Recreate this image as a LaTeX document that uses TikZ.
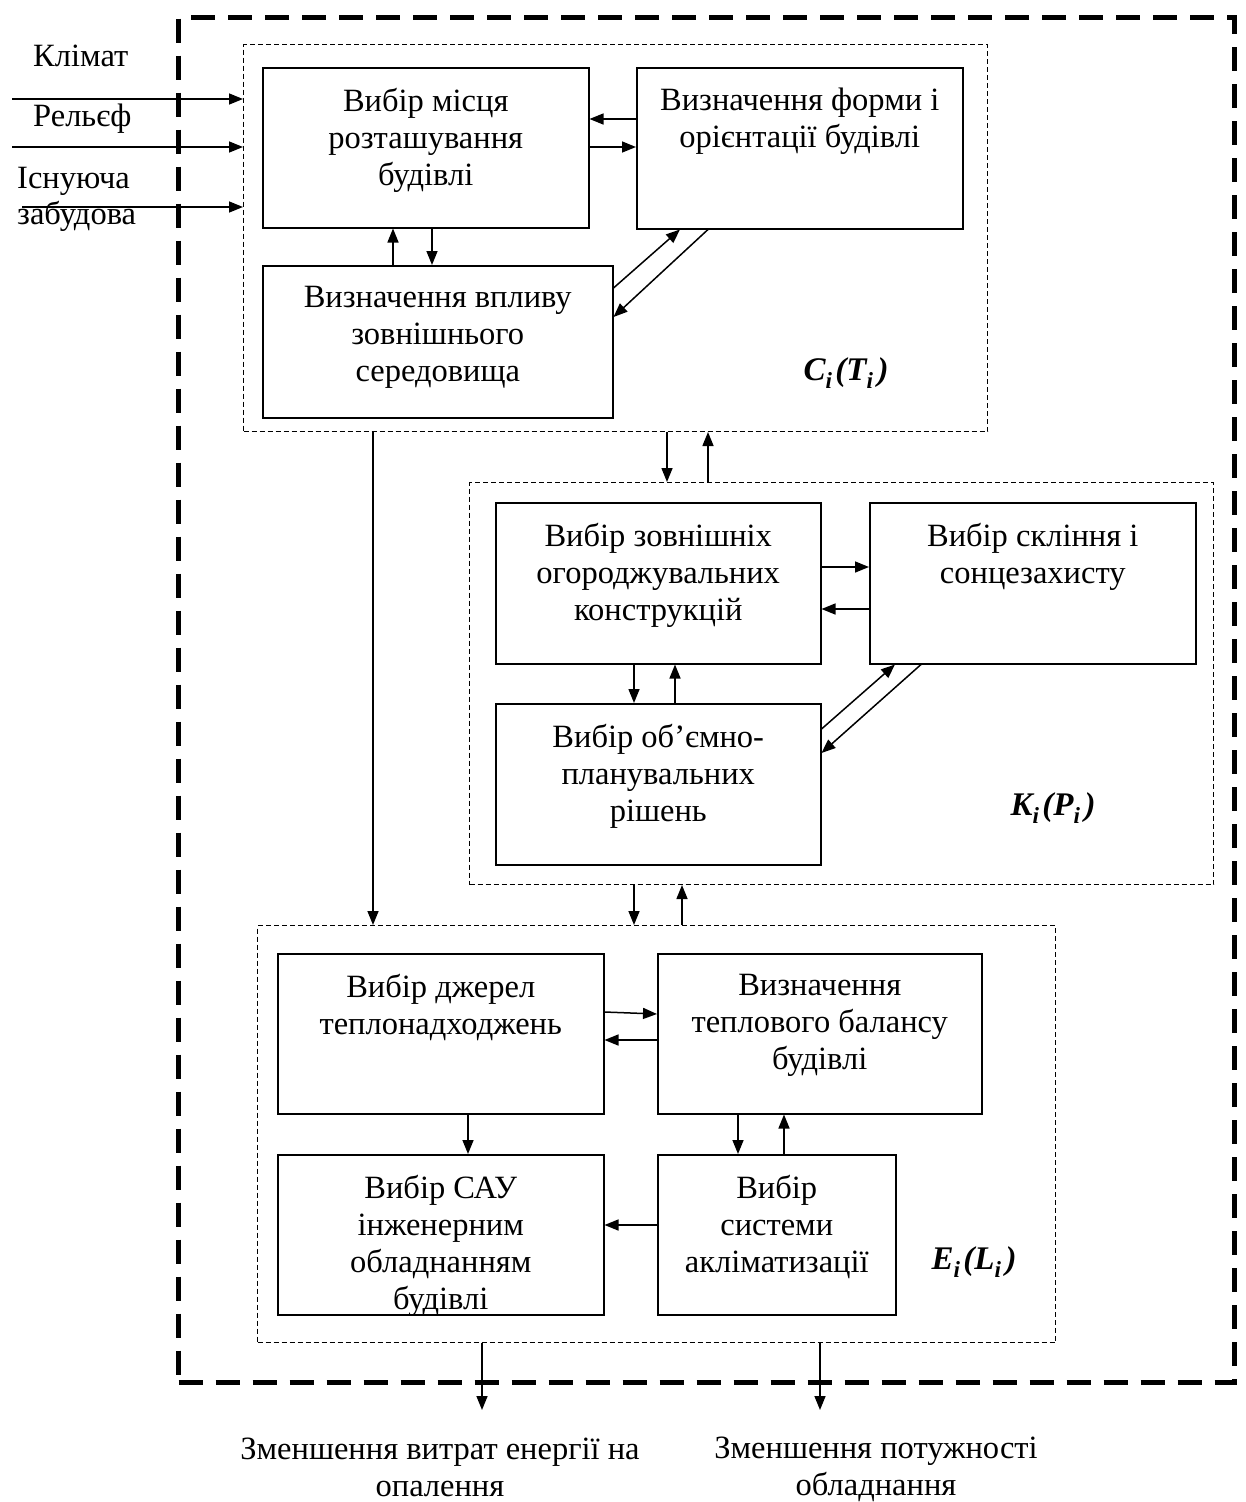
\documentclass[tikz,border=0pt]{standalone}
\usepackage{fontspec}
\setmainfont{Liberation Serif}
\usetikzlibrary{arrows.meta}
\newcommand{\grpname}[2]{\bfseries\itshape #1\textsubscript{i}\kern3pt(#2\textsubscript{i}\kern4pt)}
\begin{document}
\begin{tikzpicture}[x=1pt,y=-1pt,
  every node/.style={font=\fontsize{32.5}{37}\selectfont},
  box/.style={draw, line width=1.5pt, inner sep=0pt, anchor=north west},
  grp/.style={draw, line width=1pt, dash pattern=on 5pt off 3pt, inner sep=0pt, anchor=north west},
  frame/.style={draw, line width=5pt, dash pattern=on 24pt off 13pt, inner sep=0pt, anchor=north west},
  txt/.style={anchor=north, align=center, inner sep=0pt},
  lbl/.style={anchor=base west, inner sep=0pt},
  mlbl/.style={inner sep=0pt, font=\fontsize{33}{36}\selectfont},
  arr/.style={-{Triangle[length=14pt,width=11pt]}, line width=1.5pt}
]
\useasboundingbox (0,0) rectangle (1246,1502);

% outer frame
\node[frame, minimum width=1056pt, minimum height=1365pt] (outer) at (176,15) {};

% group C_i(T_i)
\node[grp, minimum width=744pt, minimum height=387pt] (gc) at (243,44) {};
\node[box, minimum width=326pt, minimum height=160pt] (a1) at (262,67) {};
\node[box, minimum width=326pt, minimum height=161pt] (a2) at (636,67) {};
\node[box, minimum width=350pt, minimum height=152pt] (a3) at (262,265) {};
\node[txt] at ([yshift=-21pt]a1.north) {Вибір місця\\розташування\\будівлі};
\node[txt] at ([yshift=-21pt]a2.north) {Визначення форми і\\орієнтації будівлі};
\node[txt] at ([yshift=-21pt]a3.north) {Визначення впливу\\зовнішнього\\середовища};
\node[mlbl] (mc) at (846,373) {\grpname{C}{T}};

% group K_i(P_i)
\node[grp, minimum width=744pt, minimum height=402pt] (gk) at (469,482) {};
\node[box, minimum width=325pt, minimum height=161pt] (b1) at (495,502) {};
\node[box, minimum width=326pt, minimum height=161pt] (b2) at (869,502) {};
\node[box, minimum width=325pt, minimum height=161pt] (b3) at (495,703) {};
\node[txt] at ([yshift=-21pt]b1.north) {Вибір зовнішніх\\огороджувальних\\конструкцій};
\node[txt] at ([yshift=-21pt]b2.north) {Вибір скління і\\сонцезахисту};
\node[txt] at ([yshift=-21pt]b3.north) {Вибір об’ємно-\\планувальних\\рішень};
\node[mlbl] (mk) at (1053,808) {\grpname{K}{P}};

% group E_i(L_i)
\node[grp, minimum width=798pt, minimum height=417pt] (ge) at (257,925) {};
\node[box, minimum width=326pt, minimum height=160pt] (d1) at (277,953) {};
\node[box, minimum width=324pt, minimum height=160pt] (d2) at (657,953) {};
\node[box, minimum width=326pt, minimum height=160pt] (d3) at (277,1154) {};
\node[box, minimum width=238pt, minimum height=160pt] (d4) at (657,1154) {};
\node[txt] at ([yshift=-21pt]d1.north) {Вибір джерел\\теплонадходжень};
\node[txt] at ([yshift=-21pt]d2.north) {Визначення\\теплового балансу\\будівлі};
\node[txt] at ([yshift=-21pt]d3.north) {Вибір САУ\\інженерним\\обладнанням\\будівлі};
\node[txt] at ([yshift=-21pt]d4.north) {Вибір\\системи\\акліматизації};
\node[mlbl] (me) at (974,1262) {\grpname{E}{L}};

% inputs
\node[lbl] (in1) at (33,66) {Клімат};
\node[lbl] (in2) at (33,126) {Рельєф};
\node[lbl] (in3) at (17,188) {Існуюча};
\node[lbl] (in4) at (17,224) {забудова};
\coordinate (s1) at (12,99);
\coordinate (s2) at (12,147);
\coordinate (s3) at (22,207);
\draw[arr] (s1) -- (gc.west |- s1);
\draw[arr] (s2) -- (gc.west |- s2);
\draw[arr] (s3) -- (gc.west |- s3);

% arrows inside C
\draw[arr] (a2.west |- 0,119) -- (a1.east |- 0,119);
\draw[arr] (a1.east |- 0,147) -- (a2.west |- 0,147);
\draw[arr] (a3.north -| 393,0) -- (a1.south -| 393,0);
\draw[arr] (a1.south -| 432,0) -- (a3.north -| 432,0);
\draw[arr] (a3.east |- 0,288) -- (a2.south -| 680,0);
\draw[arr] (a2.south -| 708,0) -- (a3.east |- 0,317);

% C <-> K
\draw[arr] (gc.south -| 667,0) -- (gk.north -| 667,0);
\draw[arr] (gk.north -| 708,0) -- (gc.south -| 708,0);

% arrows inside K
\draw[arr] (b1.east |- 0,567) -- (b2.west |- 0,567);
\draw[arr] (b2.west |- 0,609) -- (b1.east |- 0,609);
\draw[arr] (b1.south -| 634,0) -- (b3.north -| 634,0);
\draw[arr] (b3.north -| 675,0) -- (b1.south -| 675,0);
\draw[arr] (b3.east |- 0,729) -- (b2.south -| 895,0);
\draw[arr] (b2.south -| 921,0) -- (b3.east |- 0,753);

% K <-> E, C -> E
\draw[arr] (gk.south -| 634,0) -- (ge.north -| 634,0);
\draw[arr] (ge.north -| 682,0) -- (gk.south -| 682,0);
\draw[arr] (gc.south -| 373,0) -- (ge.north -| 373,0);

% arrows inside E
\draw[arr] (d1.east |- 0,1012) -- (d2.west |- 0,1014);
\draw[arr] (d2.west |- 0,1040) -- (d1.east |- 0,1040);
\draw[arr] (d1.south -| 468,0) -- (d3.north -| 468,0);
\draw[arr] (d2.south -| 738,0) -- (d4.north -| 738,0);
\draw[arr] (d4.north -| 784,0) -- (d2.south -| 784,0);
\draw[arr] (d4.west |- 0,1225) -- (d3.east |- 0,1225);

% outputs
\coordinate (o1) at (482,1410);
\coordinate (o2) at (820,1410);
\draw[arr] (ge.south -| o1) -- (o1);
\draw[arr] (ge.south -| o2) -- (o2);
\node[txt] (r1) at (440,1438) {Зменшення витрат енергії на\\опалення};
\node[txt] (r2) at (876,1437) {Зменшення потужності\\обладнання};
\end{tikzpicture}
\end{document}
